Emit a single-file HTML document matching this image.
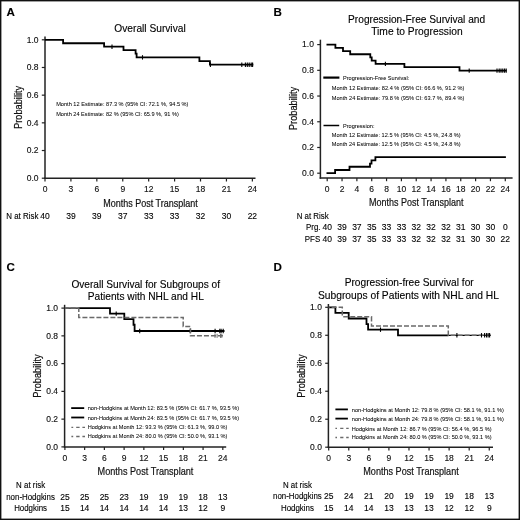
<!DOCTYPE html>
<html><head><meta charset="utf-8"><style>
html,body{margin:0;padding:0;background:#fff;}
svg{display:block;font-family:"Liberation Sans", sans-serif;}
svg.main{filter:blur(0.35px);}
.al{stroke:#111;stroke-width:0.2px;}
text{stroke:#000;stroke-width:0.12px;}
text[font-size="6.1"]{stroke-width:0.04px;}

</style></head><body>
<div style="position:relative;width:520px;height:520px;overflow:hidden;background:#fff">
<svg class="main" width="520" height="520" viewBox="0 0 520 520">
<rect x="0" y="0" width="520" height="520" fill="#fff"/>
<text x="6.60" y="16.40" font-size="11.6" font-weight="bold" fill="#000">A</text>
<text x="150.00" y="31.60" font-size="10.2" text-anchor="middle" fill="#000">Overall Survival</text>
<line x1="45.00" y1="36.50" x2="45.00" y2="179.05" stroke="#222" stroke-width="1.5"/>
<line x1="41.80" y1="178.20" x2="45.00" y2="178.20" stroke="#222" stroke-width="1.2"/>
<text x="38.50" y="181.00" font-size="8.5" text-anchor="end" fill="#111">0.0</text>
<line x1="41.80" y1="150.52" x2="45.00" y2="150.52" stroke="#222" stroke-width="1.2"/>
<text x="38.50" y="153.32" font-size="8.5" text-anchor="end" fill="#111">0.2</text>
<line x1="41.80" y1="122.84" x2="45.00" y2="122.84" stroke="#222" stroke-width="1.2"/>
<text x="38.50" y="125.64" font-size="8.5" text-anchor="end" fill="#111">0.4</text>
<line x1="41.80" y1="95.16" x2="45.00" y2="95.16" stroke="#222" stroke-width="1.2"/>
<text x="38.50" y="97.96" font-size="8.5" text-anchor="end" fill="#111">0.6</text>
<line x1="41.80" y1="67.48" x2="45.00" y2="67.48" stroke="#222" stroke-width="1.2"/>
<text x="38.50" y="70.28" font-size="8.5" text-anchor="end" fill="#111">0.8</text>
<line x1="41.80" y1="39.80" x2="45.00" y2="39.80" stroke="#222" stroke-width="1.2"/>
<text x="38.50" y="42.60" font-size="8.5" text-anchor="end" fill="#111">1.0</text>
<line x1="44.25" y1="178.30" x2="255.50" y2="178.30" stroke="#222" stroke-width="1.5"/>
<line x1="45.00" y1="178.30" x2="45.00" y2="181.50" stroke="#222" stroke-width="1.2"/>
<text x="45.00" y="191.70" font-size="8.5" text-anchor="middle" fill="#111">0</text>
<line x1="70.92" y1="178.30" x2="70.92" y2="181.50" stroke="#222" stroke-width="1.2"/>
<text x="70.92" y="191.70" font-size="8.5" text-anchor="middle" fill="#111">3</text>
<line x1="96.84" y1="178.30" x2="96.84" y2="181.50" stroke="#222" stroke-width="1.2"/>
<text x="96.84" y="191.70" font-size="8.5" text-anchor="middle" fill="#111">6</text>
<line x1="122.76" y1="178.30" x2="122.76" y2="181.50" stroke="#222" stroke-width="1.2"/>
<text x="122.76" y="191.70" font-size="8.5" text-anchor="middle" fill="#111">9</text>
<line x1="148.68" y1="178.30" x2="148.68" y2="181.50" stroke="#222" stroke-width="1.2"/>
<text x="148.68" y="191.70" font-size="8.5" text-anchor="middle" fill="#111">12</text>
<line x1="174.60" y1="178.30" x2="174.60" y2="181.50" stroke="#222" stroke-width="1.2"/>
<text x="174.60" y="191.70" font-size="8.5" text-anchor="middle" fill="#111">15</text>
<line x1="200.52" y1="178.30" x2="200.52" y2="181.50" stroke="#222" stroke-width="1.2"/>
<text x="200.52" y="191.70" font-size="8.5" text-anchor="middle" fill="#111">18</text>
<line x1="226.44" y1="178.30" x2="226.44" y2="181.50" stroke="#222" stroke-width="1.2"/>
<text x="226.44" y="191.70" font-size="8.5" text-anchor="middle" fill="#111">21</text>
<line x1="252.36" y1="178.30" x2="252.36" y2="181.50" stroke="#222" stroke-width="1.2"/>
<text x="252.36" y="191.70" font-size="8.5" text-anchor="middle" fill="#111">24</text>
<text class="al" x="0" y="0" font-size="10.5" text-anchor="middle" textLength="43.3" lengthAdjust="spacingAndGlyphs" fill="#111" transform="translate(22.30,107.40) rotate(-90)">Probability</text>
<text x="150.50" y="206.50" font-size="10.5" text-anchor="middle" textLength="94.5" lengthAdjust="spacingAndGlyphs" fill="#111" class="al">Months Post Transplant</text>
<path d="M45.00,39.80H63.10V43.26H104.10V46.72H123.50V50.18H135.60V53.64H136.60V57.38H199.40V61.11H209.90V64.71H253.30V64.71" fill="none" stroke="#000" stroke-width="1.8"/>
<line x1="112.00" y1="44.52" x2="112.00" y2="48.92" stroke="#000" stroke-width="1.1"/>
<line x1="142.50" y1="55.18" x2="142.50" y2="59.58" stroke="#000" stroke-width="1.1"/>
<line x1="210.40" y1="62.51" x2="210.40" y2="66.91" stroke="#000" stroke-width="1.1"/>
<line x1="241.80" y1="62.51" x2="241.80" y2="66.91" stroke="#000" stroke-width="1.1"/>
<line x1="245.40" y1="62.51" x2="245.40" y2="66.91" stroke="#000" stroke-width="1.1"/>
<line x1="247.30" y1="62.51" x2="247.30" y2="66.91" stroke="#000" stroke-width="1.1"/>
<line x1="249.20" y1="62.51" x2="249.20" y2="66.91" stroke="#000" stroke-width="1.1"/>
<line x1="251.20" y1="62.51" x2="251.20" y2="66.91" stroke="#000" stroke-width="1.1"/>
<line x1="252.60" y1="62.51" x2="252.60" y2="66.91" stroke="#000" stroke-width="1.1"/>
<text x="56.20" y="106.40" font-size="6.1" textLength="132.3" lengthAdjust="spacingAndGlyphs" fill="#000">Month 12 Estimate: 87.3 % (95% CI: 72.1 %, 94.5 %)</text>
<text x="56.20" y="115.90" font-size="6.1" textLength="122.63" lengthAdjust="spacingAndGlyphs" fill="#000">Month 24 Estimate: 82 % (95% CI: 65.9 %, 91 %)</text>
<text x="6.30" y="218.60" font-size="8.6" textLength="32.04" lengthAdjust="spacingAndGlyphs" fill="#000">N at Risk</text>
<text x="45.00" y="218.60" font-size="8.5" text-anchor="middle" fill="#000">40</text>
<text x="70.92" y="218.60" font-size="8.5" text-anchor="middle" fill="#000">39</text>
<text x="96.84" y="218.60" font-size="8.5" text-anchor="middle" fill="#000">39</text>
<text x="122.76" y="218.60" font-size="8.5" text-anchor="middle" fill="#000">37</text>
<text x="148.68" y="218.60" font-size="8.5" text-anchor="middle" fill="#000">33</text>
<text x="174.60" y="218.60" font-size="8.5" text-anchor="middle" fill="#000">33</text>
<text x="200.52" y="218.60" font-size="8.5" text-anchor="middle" fill="#000">32</text>
<text x="226.44" y="218.60" font-size="8.5" text-anchor="middle" fill="#000">30</text>
<text x="252.36" y="218.60" font-size="8.5" text-anchor="middle" fill="#000">22</text>
<text x="273.40" y="16.40" font-size="11.6" font-weight="bold" fill="#000">B</text>
<text x="416.60" y="22.70" font-size="10.2" text-anchor="middle" textLength="137.0" lengthAdjust="spacingAndGlyphs" fill="#000">Progression-Free Survival and</text>
<text x="416.90" y="35.10" font-size="10.2" text-anchor="middle" textLength="91.4" lengthAdjust="spacingAndGlyphs" fill="#000">Time to Progression</text>
<line x1="320.40" y1="39.70" x2="320.40" y2="178.75" stroke="#222" stroke-width="1.5"/>
<line x1="317.20" y1="173.20" x2="320.40" y2="173.20" stroke="#222" stroke-width="1.2"/>
<text x="313.90" y="176.00" font-size="8.5" text-anchor="end" fill="#111">0.0</text>
<line x1="317.20" y1="147.48" x2="320.40" y2="147.48" stroke="#222" stroke-width="1.2"/>
<text x="313.90" y="150.28" font-size="8.5" text-anchor="end" fill="#111">0.2</text>
<line x1="317.20" y1="121.76" x2="320.40" y2="121.76" stroke="#222" stroke-width="1.2"/>
<text x="313.90" y="124.56" font-size="8.5" text-anchor="end" fill="#111">0.4</text>
<line x1="317.20" y1="96.04" x2="320.40" y2="96.04" stroke="#222" stroke-width="1.2"/>
<text x="313.90" y="98.84" font-size="8.5" text-anchor="end" fill="#111">0.6</text>
<line x1="317.20" y1="70.32" x2="320.40" y2="70.32" stroke="#222" stroke-width="1.2"/>
<text x="313.90" y="73.12" font-size="8.5" text-anchor="end" fill="#111">0.8</text>
<line x1="317.20" y1="44.60" x2="320.40" y2="44.60" stroke="#222" stroke-width="1.2"/>
<text x="313.90" y="47.40" font-size="8.5" text-anchor="end" fill="#111">1.0</text>
<line x1="319.65" y1="178.00" x2="512.60" y2="178.00" stroke="#222" stroke-width="1.5"/>
<line x1="327.20" y1="178.00" x2="327.20" y2="181.20" stroke="#222" stroke-width="1.2"/>
<text x="327.20" y="192.40" font-size="8.5" text-anchor="middle" fill="#111">0</text>
<line x1="342.04" y1="178.00" x2="342.04" y2="181.20" stroke="#222" stroke-width="1.2"/>
<text x="342.04" y="192.40" font-size="8.5" text-anchor="middle" fill="#111">2</text>
<line x1="356.88" y1="178.00" x2="356.88" y2="181.20" stroke="#222" stroke-width="1.2"/>
<text x="356.88" y="192.40" font-size="8.5" text-anchor="middle" fill="#111">4</text>
<line x1="371.72" y1="178.00" x2="371.72" y2="181.20" stroke="#222" stroke-width="1.2"/>
<text x="371.72" y="192.40" font-size="8.5" text-anchor="middle" fill="#111">6</text>
<line x1="386.56" y1="178.00" x2="386.56" y2="181.20" stroke="#222" stroke-width="1.2"/>
<text x="386.56" y="192.40" font-size="8.5" text-anchor="middle" fill="#111">8</text>
<line x1="401.40" y1="178.00" x2="401.40" y2="181.20" stroke="#222" stroke-width="1.2"/>
<text x="401.40" y="192.40" font-size="8.5" text-anchor="middle" fill="#111">10</text>
<line x1="416.24" y1="178.00" x2="416.24" y2="181.20" stroke="#222" stroke-width="1.2"/>
<text x="416.24" y="192.40" font-size="8.5" text-anchor="middle" fill="#111">12</text>
<line x1="431.08" y1="178.00" x2="431.08" y2="181.20" stroke="#222" stroke-width="1.2"/>
<text x="431.08" y="192.40" font-size="8.5" text-anchor="middle" fill="#111">14</text>
<line x1="445.92" y1="178.00" x2="445.92" y2="181.20" stroke="#222" stroke-width="1.2"/>
<text x="445.92" y="192.40" font-size="8.5" text-anchor="middle" fill="#111">16</text>
<line x1="460.76" y1="178.00" x2="460.76" y2="181.20" stroke="#222" stroke-width="1.2"/>
<text x="460.76" y="192.40" font-size="8.5" text-anchor="middle" fill="#111">18</text>
<line x1="475.60" y1="178.00" x2="475.60" y2="181.20" stroke="#222" stroke-width="1.2"/>
<text x="475.60" y="192.40" font-size="8.5" text-anchor="middle" fill="#111">20</text>
<line x1="490.44" y1="178.00" x2="490.44" y2="181.20" stroke="#222" stroke-width="1.2"/>
<text x="490.44" y="192.40" font-size="8.5" text-anchor="middle" fill="#111">22</text>
<line x1="505.28" y1="178.00" x2="505.28" y2="181.20" stroke="#222" stroke-width="1.2"/>
<text x="505.28" y="192.40" font-size="8.5" text-anchor="middle" fill="#111">24</text>
<text class="al" x="0" y="0" font-size="10.5" text-anchor="middle" textLength="43.3" lengthAdjust="spacingAndGlyphs" fill="#111" transform="translate(297.00,108.50) rotate(-90)">Probability</text>
<text x="416.20" y="205.90" font-size="11.3" text-anchor="middle" textLength="94.5" lengthAdjust="spacingAndGlyphs" fill="#111" class="al">Months Post Transplant</text>
<path d="M326.50,44.60H335.40V47.81H343.00V51.03H350.20V54.24H370.30V57.46H371.70V60.67H375.60V63.89H404.40V67.11H459.50V70.58H506.60V70.58" fill="none" stroke="#000" stroke-width="1.8"/>
<line x1="385.40" y1="61.69" x2="385.40" y2="66.09" stroke="#000" stroke-width="1.1"/>
<line x1="469.20" y1="68.38" x2="469.20" y2="72.78" stroke="#000" stroke-width="1.1"/>
<line x1="497.00" y1="68.38" x2="497.00" y2="72.78" stroke="#000" stroke-width="1.1"/>
<line x1="499.20" y1="68.38" x2="499.20" y2="72.78" stroke="#000" stroke-width="1.1"/>
<line x1="501.00" y1="68.38" x2="501.00" y2="72.78" stroke="#000" stroke-width="1.1"/>
<line x1="502.80" y1="68.38" x2="502.80" y2="72.78" stroke="#000" stroke-width="1.1"/>
<line x1="504.60" y1="68.38" x2="504.60" y2="72.78" stroke="#000" stroke-width="1.1"/>
<line x1="506.20" y1="68.38" x2="506.20" y2="72.78" stroke="#000" stroke-width="1.1"/>
<path d="M326.50,173.20H335.10V169.98H349.50V166.77H370.00V163.55H371.50V160.34H375.40V157.12H505.90V157.12" fill="none" stroke="#000" stroke-width="1.8"/>
<line x1="323.30" y1="77.60" x2="339.40" y2="77.60" stroke="#000" stroke-width="2.2"/>
<text x="343.00" y="79.80" font-size="6.1" textLength="66.29" lengthAdjust="spacingAndGlyphs" fill="#000">Progression-Free Survival:</text>
<text x="331.80" y="89.50" font-size="6.1" textLength="132.6" lengthAdjust="spacingAndGlyphs" fill="#000">Month 12 Estimate: 82.4 % (95% CI: 66.6 %, 91.2 %)</text>
<text x="331.80" y="99.50" font-size="6.1" textLength="132.6" lengthAdjust="spacingAndGlyphs" fill="#000">Month 24 Estimate: 79.8 % (95% CI: 63.7 %, 89.4 %)</text>
<line x1="323.50" y1="125.50" x2="339.20" y2="125.50" stroke="#000" stroke-width="1.5"/>
<text x="343.00" y="127.70" font-size="6.1" textLength="31.44" lengthAdjust="spacingAndGlyphs" fill="#000">Progression:</text>
<text x="331.80" y="137.20" font-size="6.1" textLength="128.86" lengthAdjust="spacingAndGlyphs" fill="#000">Month 12 Estimate: 12.5 % (95% CI: 4.5 %, 24.8 %)</text>
<text x="331.80" y="146.40" font-size="6.1" textLength="128.86" lengthAdjust="spacingAndGlyphs" fill="#000">Month 24 Estimate: 12.5 % (95% CI: 4.5 %, 24.8 %)</text>
<text x="296.70" y="218.60" font-size="8.6" textLength="32.04" lengthAdjust="spacingAndGlyphs" fill="#000">N at Risk</text>
<text x="306.00" y="230.10" font-size="8.6" textLength="14.49" lengthAdjust="spacingAndGlyphs" fill="#000">Prg.</text>
<text x="304.80" y="242.00" font-size="8.6" textLength="15.36" lengthAdjust="spacingAndGlyphs" fill="#000">PFS</text>
<text x="327.20" y="230.10" font-size="8.5" text-anchor="middle" fill="#000">40</text>
<text x="327.20" y="242.00" font-size="8.5" text-anchor="middle" fill="#000">40</text>
<text x="342.04" y="230.10" font-size="8.5" text-anchor="middle" fill="#000">39</text>
<text x="342.04" y="242.00" font-size="8.5" text-anchor="middle" fill="#000">39</text>
<text x="356.88" y="230.10" font-size="8.5" text-anchor="middle" fill="#000">37</text>
<text x="356.88" y="242.00" font-size="8.5" text-anchor="middle" fill="#000">37</text>
<text x="371.72" y="230.10" font-size="8.5" text-anchor="middle" fill="#000">35</text>
<text x="371.72" y="242.00" font-size="8.5" text-anchor="middle" fill="#000">35</text>
<text x="386.56" y="230.10" font-size="8.5" text-anchor="middle" fill="#000">33</text>
<text x="386.56" y="242.00" font-size="8.5" text-anchor="middle" fill="#000">33</text>
<text x="401.40" y="230.10" font-size="8.5" text-anchor="middle" fill="#000">33</text>
<text x="401.40" y="242.00" font-size="8.5" text-anchor="middle" fill="#000">33</text>
<text x="416.24" y="230.10" font-size="8.5" text-anchor="middle" fill="#000">32</text>
<text x="416.24" y="242.00" font-size="8.5" text-anchor="middle" fill="#000">32</text>
<text x="431.08" y="230.10" font-size="8.5" text-anchor="middle" fill="#000">32</text>
<text x="431.08" y="242.00" font-size="8.5" text-anchor="middle" fill="#000">32</text>
<text x="445.92" y="230.10" font-size="8.5" text-anchor="middle" fill="#000">32</text>
<text x="445.92" y="242.00" font-size="8.5" text-anchor="middle" fill="#000">32</text>
<text x="460.76" y="230.10" font-size="8.5" text-anchor="middle" fill="#000">31</text>
<text x="460.76" y="242.00" font-size="8.5" text-anchor="middle" fill="#000">31</text>
<text x="475.60" y="230.10" font-size="8.5" text-anchor="middle" fill="#000">30</text>
<text x="475.60" y="242.00" font-size="8.5" text-anchor="middle" fill="#000">30</text>
<text x="490.44" y="230.10" font-size="8.5" text-anchor="middle" fill="#000">30</text>
<text x="490.44" y="242.00" font-size="8.5" text-anchor="middle" fill="#000">30</text>
<text x="505.28" y="230.10" font-size="8.5" text-anchor="middle" fill="#000">0</text>
<text x="505.28" y="242.00" font-size="8.5" text-anchor="middle" fill="#000">22</text>
<text x="6.40" y="270.80" font-size="11.6" font-weight="bold" fill="#000">C</text>
<text x="145.75" y="288.40" font-size="10.2" text-anchor="middle" textLength="148.7" lengthAdjust="spacingAndGlyphs" fill="#000">Overall Survival for Subgroups of</text>
<text x="145.80" y="300.40" font-size="10.2" text-anchor="middle" textLength="116.0" lengthAdjust="spacingAndGlyphs" fill="#000">Patients with NHL and HL</text>
<line x1="64.60" y1="304.80" x2="64.60" y2="447.65" stroke="#222" stroke-width="1.5"/>
<line x1="61.40" y1="446.90" x2="64.60" y2="446.90" stroke="#222" stroke-width="1.2"/>
<text x="58.10" y="449.70" font-size="8.5" text-anchor="end" fill="#111">0.0</text>
<line x1="61.40" y1="419.14" x2="64.60" y2="419.14" stroke="#222" stroke-width="1.2"/>
<text x="58.10" y="421.94" font-size="8.5" text-anchor="end" fill="#111">0.2</text>
<line x1="61.40" y1="391.38" x2="64.60" y2="391.38" stroke="#222" stroke-width="1.2"/>
<text x="58.10" y="394.18" font-size="8.5" text-anchor="end" fill="#111">0.4</text>
<line x1="61.40" y1="363.62" x2="64.60" y2="363.62" stroke="#222" stroke-width="1.2"/>
<text x="58.10" y="366.42" font-size="8.5" text-anchor="end" fill="#111">0.6</text>
<line x1="61.40" y1="335.86" x2="64.60" y2="335.86" stroke="#222" stroke-width="1.2"/>
<text x="58.10" y="338.66" font-size="8.5" text-anchor="end" fill="#111">0.8</text>
<line x1="61.40" y1="308.10" x2="64.60" y2="308.10" stroke="#222" stroke-width="1.2"/>
<text x="58.10" y="310.90" font-size="8.5" text-anchor="end" fill="#111">1.0</text>
<line x1="63.85" y1="446.90" x2="226.20" y2="446.90" stroke="#222" stroke-width="1.5"/>
<line x1="64.90" y1="446.90" x2="64.90" y2="450.10" stroke="#222" stroke-width="1.2"/>
<text x="64.90" y="461.10" font-size="8.5" text-anchor="middle" fill="#111">0</text>
<line x1="84.64" y1="446.90" x2="84.64" y2="450.10" stroke="#222" stroke-width="1.2"/>
<text x="84.64" y="461.10" font-size="8.5" text-anchor="middle" fill="#111">3</text>
<line x1="104.38" y1="446.90" x2="104.38" y2="450.10" stroke="#222" stroke-width="1.2"/>
<text x="104.38" y="461.10" font-size="8.5" text-anchor="middle" fill="#111">6</text>
<line x1="124.12" y1="446.90" x2="124.12" y2="450.10" stroke="#222" stroke-width="1.2"/>
<text x="124.12" y="461.10" font-size="8.5" text-anchor="middle" fill="#111">9</text>
<line x1="143.86" y1="446.90" x2="143.86" y2="450.10" stroke="#222" stroke-width="1.2"/>
<text x="143.86" y="461.10" font-size="8.5" text-anchor="middle" fill="#111">12</text>
<line x1="163.60" y1="446.90" x2="163.60" y2="450.10" stroke="#222" stroke-width="1.2"/>
<text x="163.60" y="461.10" font-size="8.5" text-anchor="middle" fill="#111">15</text>
<line x1="183.34" y1="446.90" x2="183.34" y2="450.10" stroke="#222" stroke-width="1.2"/>
<text x="183.34" y="461.10" font-size="8.5" text-anchor="middle" fill="#111">18</text>
<line x1="203.08" y1="446.90" x2="203.08" y2="450.10" stroke="#222" stroke-width="1.2"/>
<text x="203.08" y="461.10" font-size="8.5" text-anchor="middle" fill="#111">21</text>
<line x1="222.82" y1="446.90" x2="222.82" y2="450.10" stroke="#222" stroke-width="1.2"/>
<text x="222.82" y="461.10" font-size="8.5" text-anchor="middle" fill="#111">24</text>
<text class="al" x="0" y="0" font-size="10.5" text-anchor="middle" textLength="43.3" lengthAdjust="spacingAndGlyphs" fill="#111" transform="translate(41.00,376.00) rotate(-90)">Probability</text>
<text x="145.50" y="474.70" font-size="11.0" text-anchor="middle" textLength="95.8" lengthAdjust="spacingAndGlyphs" fill="#111" class="al">Months Post Transplant</text>
<path d="M64.9,308.10H79.0" fill="none" stroke="#000" stroke-width="1.2"/>
<path d="M78.80,308.10H110.00V313.65H124.30V319.20H133.50V324.76H134.60V331.00H224.50V331.00" fill="none" stroke="#000" stroke-width="1.8"/>
<line x1="116.20" y1="311.45" x2="116.20" y2="315.85" stroke="#000" stroke-width="1.1"/>
<line x1="139.70" y1="328.80" x2="139.70" y2="333.20" stroke="#000" stroke-width="1.1"/>
<line x1="190.20" y1="328.80" x2="190.20" y2="333.20" stroke="#000" stroke-width="1.1"/>
<line x1="215.10" y1="328.80" x2="215.10" y2="333.20" stroke="#000" stroke-width="1.1"/>
<line x1="219.80" y1="328.80" x2="219.80" y2="333.20" stroke="#000" stroke-width="1.1"/>
<line x1="221.10" y1="328.80" x2="221.10" y2="333.20" stroke="#000" stroke-width="1.1"/>
<line x1="223.20" y1="328.80" x2="223.20" y2="333.20" stroke="#000" stroke-width="1.1"/>
<path d="M64.90,308.10H78.80V317.40H183.20V326.56H190.50V335.86H223.20V335.86" fill="none" stroke="#6a6a6a" stroke-width="1.5" stroke-dasharray="5 2" stroke-dashoffset="1.2"/>
<line x1="215.00" y1="333.86" x2="215.00" y2="337.86" stroke="#6a6a6a" stroke-width="1.0"/>
<line x1="217.10" y1="333.86" x2="217.10" y2="337.86" stroke="#6a6a6a" stroke-width="1.0"/>
<line x1="220.50" y1="333.86" x2="220.50" y2="337.86" stroke="#6a6a6a" stroke-width="1.0"/>
<line x1="221.80" y1="333.86" x2="221.80" y2="337.86" stroke="#6a6a6a" stroke-width="1.0"/>
<line x1="71.20" y1="408.10" x2="84.20" y2="408.10" stroke="#000" stroke-width="1.8"/>
<line x1="71.20" y1="417.50" x2="84.20" y2="417.50" stroke="#000" stroke-width="1.8"/>
<path d="M71.4,427.3H73.2M76.2,427.3H79.6M82.4,427.3H85.0" fill="none" stroke="#6a6a6a" stroke-width="1.3"/>
<path d="M71.4,436.5H73.2M76.2,436.5H79.6M82.4,436.5H85.0" fill="none" stroke="#6a6a6a" stroke-width="1.3"/>
<text x="87.70" y="410.30" font-size="6.1" textLength="151.5" lengthAdjust="spacingAndGlyphs" fill="#000">non-Hodgkins at Month 12: 83.5 % (95% CI: 61.7 %, 93.5 %)</text>
<text x="87.70" y="419.60" font-size="6.1" textLength="151.5" lengthAdjust="spacingAndGlyphs" fill="#000">non-Hodgkins at Month 24: 83.5 % (95% CI: 61.7 %, 93.5 %)</text>
<text x="87.70" y="429.10" font-size="6.1" textLength="139.76" lengthAdjust="spacingAndGlyphs" fill="#000">Hodgkins at Month 12: 93.3 % (95% CI: 61.3 %, 99.0 %)</text>
<text x="87.70" y="438.30" font-size="6.1" textLength="139.76" lengthAdjust="spacingAndGlyphs" fill="#000">Hodgkins at Month 24: 80.0 % (95% CI: 50.0 %, 93.1 %)</text>
<text x="30.60" y="487.80" font-size="8.6" text-anchor="middle" textLength="28.97" lengthAdjust="spacingAndGlyphs" fill="#000">N at risk</text>
<text x="30.60" y="499.50" font-size="8.6" text-anchor="middle" textLength="48.74" lengthAdjust="spacingAndGlyphs" fill="#000">non-Hodgkins</text>
<text x="30.60" y="511.20" font-size="8.6" text-anchor="middle" textLength="32.93" lengthAdjust="spacingAndGlyphs" fill="#000">Hodgkins</text>
<text x="64.90" y="499.50" font-size="8.5" text-anchor="middle" fill="#000">25</text>
<text x="64.90" y="511.20" font-size="8.5" text-anchor="middle" fill="#000">15</text>
<text x="84.64" y="499.50" font-size="8.5" text-anchor="middle" fill="#000">25</text>
<text x="84.64" y="511.20" font-size="8.5" text-anchor="middle" fill="#000">14</text>
<text x="104.38" y="499.50" font-size="8.5" text-anchor="middle" fill="#000">25</text>
<text x="104.38" y="511.20" font-size="8.5" text-anchor="middle" fill="#000">14</text>
<text x="124.12" y="499.50" font-size="8.5" text-anchor="middle" fill="#000">23</text>
<text x="124.12" y="511.20" font-size="8.5" text-anchor="middle" fill="#000">14</text>
<text x="143.86" y="499.50" font-size="8.5" text-anchor="middle" fill="#000">19</text>
<text x="143.86" y="511.20" font-size="8.5" text-anchor="middle" fill="#000">14</text>
<text x="163.60" y="499.50" font-size="8.5" text-anchor="middle" fill="#000">19</text>
<text x="163.60" y="511.20" font-size="8.5" text-anchor="middle" fill="#000">14</text>
<text x="183.34" y="499.50" font-size="8.5" text-anchor="middle" fill="#000">19</text>
<text x="183.34" y="511.20" font-size="8.5" text-anchor="middle" fill="#000">13</text>
<text x="203.08" y="499.50" font-size="8.5" text-anchor="middle" fill="#000">18</text>
<text x="203.08" y="511.20" font-size="8.5" text-anchor="middle" fill="#000">12</text>
<text x="222.82" y="499.50" font-size="8.5" text-anchor="middle" fill="#000">13</text>
<text x="222.82" y="511.20" font-size="8.5" text-anchor="middle" fill="#000">9</text>
<text x="273.40" y="270.80" font-size="11.6" font-weight="bold" fill="#000">D</text>
<text x="409.20" y="285.70" font-size="10.2" text-anchor="middle" textLength="129.0" lengthAdjust="spacingAndGlyphs" fill="#000">Progression-free Survival for</text>
<text x="408.45" y="298.50" font-size="10.2" text-anchor="middle" textLength="180.9" lengthAdjust="spacingAndGlyphs" fill="#000">Subgroups of Patients with NHL and HL</text>
<line x1="328.40" y1="304.00" x2="328.40" y2="447.95" stroke="#222" stroke-width="1.5"/>
<line x1="325.20" y1="447.20" x2="328.40" y2="447.20" stroke="#222" stroke-width="1.2"/>
<text x="321.90" y="450.00" font-size="8.5" text-anchor="end" fill="#111">0.0</text>
<line x1="325.20" y1="419.22" x2="328.40" y2="419.22" stroke="#222" stroke-width="1.2"/>
<text x="321.90" y="422.02" font-size="8.5" text-anchor="end" fill="#111">0.2</text>
<line x1="325.20" y1="391.24" x2="328.40" y2="391.24" stroke="#222" stroke-width="1.2"/>
<text x="321.90" y="394.04" font-size="8.5" text-anchor="end" fill="#111">0.4</text>
<line x1="325.20" y1="363.26" x2="328.40" y2="363.26" stroke="#222" stroke-width="1.2"/>
<text x="321.90" y="366.06" font-size="8.5" text-anchor="end" fill="#111">0.6</text>
<line x1="325.20" y1="335.28" x2="328.40" y2="335.28" stroke="#222" stroke-width="1.2"/>
<text x="321.90" y="338.08" font-size="8.5" text-anchor="end" fill="#111">0.8</text>
<line x1="325.20" y1="307.30" x2="328.40" y2="307.30" stroke="#222" stroke-width="1.2"/>
<text x="321.90" y="310.10" font-size="8.5" text-anchor="end" fill="#111">1.0</text>
<line x1="327.65" y1="447.20" x2="493.00" y2="447.20" stroke="#222" stroke-width="1.5"/>
<line x1="328.70" y1="447.20" x2="328.70" y2="450.40" stroke="#222" stroke-width="1.2"/>
<text x="328.70" y="461.10" font-size="8.5" text-anchor="middle" fill="#111">0</text>
<line x1="348.77" y1="447.20" x2="348.77" y2="450.40" stroke="#222" stroke-width="1.2"/>
<text x="348.77" y="461.10" font-size="8.5" text-anchor="middle" fill="#111">3</text>
<line x1="368.84" y1="447.20" x2="368.84" y2="450.40" stroke="#222" stroke-width="1.2"/>
<text x="368.84" y="461.10" font-size="8.5" text-anchor="middle" fill="#111">6</text>
<line x1="388.91" y1="447.20" x2="388.91" y2="450.40" stroke="#222" stroke-width="1.2"/>
<text x="388.91" y="461.10" font-size="8.5" text-anchor="middle" fill="#111">9</text>
<line x1="408.98" y1="447.20" x2="408.98" y2="450.40" stroke="#222" stroke-width="1.2"/>
<text x="408.98" y="461.10" font-size="8.5" text-anchor="middle" fill="#111">12</text>
<line x1="429.05" y1="447.20" x2="429.05" y2="450.40" stroke="#222" stroke-width="1.2"/>
<text x="429.05" y="461.10" font-size="8.5" text-anchor="middle" fill="#111">15</text>
<line x1="449.12" y1="447.20" x2="449.12" y2="450.40" stroke="#222" stroke-width="1.2"/>
<text x="449.12" y="461.10" font-size="8.5" text-anchor="middle" fill="#111">18</text>
<line x1="469.19" y1="447.20" x2="469.19" y2="450.40" stroke="#222" stroke-width="1.2"/>
<text x="469.19" y="461.10" font-size="8.5" text-anchor="middle" fill="#111">21</text>
<line x1="489.26" y1="447.20" x2="489.26" y2="450.40" stroke="#222" stroke-width="1.2"/>
<text x="489.26" y="461.10" font-size="8.5" text-anchor="middle" fill="#111">24</text>
<text class="al" x="0" y="0" font-size="10.5" text-anchor="middle" textLength="43.3" lengthAdjust="spacingAndGlyphs" fill="#111" transform="translate(305.00,376.00) rotate(-90)">Probability</text>
<text x="411.00" y="474.80" font-size="11.0" text-anchor="middle" textLength="95.5" lengthAdjust="spacingAndGlyphs" fill="#111" class="al">Months Post Transplant</text>
<path d="M328.60,307.30H335.40V312.90H348.70V318.49H366.50V324.09H368.10V329.68H398.00V335.28H448.50V335.28" fill="none" stroke="#000" stroke-width="1.8"/>
<line x1="380.50" y1="327.48" x2="380.50" y2="331.88" stroke="#000" stroke-width="1.1"/>
<path d="M448.5,335.28H491.0" fill="none" stroke="#000" stroke-width="1.2"/>
<path d="M328.60,307.30H342.30V316.67H371.50V325.91H448.30V335.28H491.00V335.28" fill="none" stroke="#6a6a6a" stroke-width="1.5" stroke-dasharray="5 2" stroke-dashoffset="4"/>
<line x1="456.90" y1="333.08" x2="456.90" y2="337.48" stroke="#000" stroke-width="1.1"/>
<line x1="481.50" y1="333.08" x2="481.50" y2="337.48" stroke="#000" stroke-width="1.1"/>
<line x1="484.60" y1="333.08" x2="484.60" y2="337.48" stroke="#000" stroke-width="1.1"/>
<line x1="486.50" y1="333.08" x2="486.50" y2="337.48" stroke="#000" stroke-width="1.1"/>
<line x1="488.10" y1="333.08" x2="488.10" y2="337.48" stroke="#000" stroke-width="1.1"/>
<line x1="489.60" y1="333.08" x2="489.60" y2="337.48" stroke="#000" stroke-width="1.1"/>
<line x1="335.40" y1="409.40" x2="347.90" y2="409.40" stroke="#000" stroke-width="1.8"/>
<line x1="335.40" y1="418.60" x2="347.90" y2="418.60" stroke="#000" stroke-width="1.8"/>
<path d="M335.4,428.3H337.0M340.2,428.3H343.4M346.2,428.3H348.7" fill="none" stroke="#6a6a6a" stroke-width="1.3"/>
<path d="M335.4,437.5H337.0M340.2,437.5H343.4M346.2,437.5H348.7" fill="none" stroke="#6a6a6a" stroke-width="1.3"/>
<text x="351.80" y="411.60" font-size="6.1" textLength="152.0" lengthAdjust="spacingAndGlyphs" fill="#000">non-Hodgkins at Month 12: 79.8 % (95% CI: 58.1 %, 91.1 %)</text>
<text x="351.80" y="420.80" font-size="6.1" textLength="152.0" lengthAdjust="spacingAndGlyphs" fill="#000">non-Hodgkins at Month 24: 79.8 % (95% CI: 58.1 %, 91.1 %)</text>
<text x="351.80" y="430.50" font-size="6.1" textLength="139.76" lengthAdjust="spacingAndGlyphs" fill="#000">Hodgkins at Month 12: 86.7 % (95% CI: 56.4 %, 96.5 %)</text>
<text x="351.80" y="439.40" font-size="6.1" textLength="139.76" lengthAdjust="spacingAndGlyphs" fill="#000">Hodgkins at Month 24: 80.0 % (95% CI: 50.0 %, 93.1 %)</text>
<text x="297.40" y="487.90" font-size="8.6" text-anchor="middle" textLength="28.97" lengthAdjust="spacingAndGlyphs" fill="#000">N at risk</text>
<text x="297.40" y="499.20" font-size="8.6" text-anchor="middle" textLength="48.74" lengthAdjust="spacingAndGlyphs" fill="#000">non-Hodgkins</text>
<text x="297.40" y="511.00" font-size="8.6" text-anchor="middle" textLength="32.93" lengthAdjust="spacingAndGlyphs" fill="#000">Hodgkins</text>
<text x="328.70" y="499.20" font-size="8.5" text-anchor="middle" fill="#000">25</text>
<text x="328.70" y="511.00" font-size="8.5" text-anchor="middle" fill="#000">15</text>
<text x="348.77" y="499.20" font-size="8.5" text-anchor="middle" fill="#000">24</text>
<text x="348.77" y="511.00" font-size="8.5" text-anchor="middle" fill="#000">14</text>
<text x="368.84" y="499.20" font-size="8.5" text-anchor="middle" fill="#000">21</text>
<text x="368.84" y="511.00" font-size="8.5" text-anchor="middle" fill="#000">14</text>
<text x="388.91" y="499.20" font-size="8.5" text-anchor="middle" fill="#000">20</text>
<text x="388.91" y="511.00" font-size="8.5" text-anchor="middle" fill="#000">13</text>
<text x="408.98" y="499.20" font-size="8.5" text-anchor="middle" fill="#000">19</text>
<text x="408.98" y="511.00" font-size="8.5" text-anchor="middle" fill="#000">13</text>
<text x="429.05" y="499.20" font-size="8.5" text-anchor="middle" fill="#000">19</text>
<text x="429.05" y="511.00" font-size="8.5" text-anchor="middle" fill="#000">13</text>
<text x="449.12" y="499.20" font-size="8.5" text-anchor="middle" fill="#000">19</text>
<text x="449.12" y="511.00" font-size="8.5" text-anchor="middle" fill="#000">12</text>
<text x="469.19" y="499.20" font-size="8.5" text-anchor="middle" fill="#000">18</text>
<text x="469.19" y="511.00" font-size="8.5" text-anchor="middle" fill="#000">12</text>
<text x="489.26" y="499.20" font-size="8.5" text-anchor="middle" fill="#000">13</text>
<text x="489.26" y="511.00" font-size="8.5" text-anchor="middle" fill="#000">9</text>
</svg>
<svg style="position:absolute;left:0;top:0" width="520" height="520" viewBox="0 0 520 520">
<rect x="0.7" y="0.7" width="518.6" height="518.6" fill="none" stroke="#111" stroke-width="1.4"/>
</svg>
</div>
</body></html>
